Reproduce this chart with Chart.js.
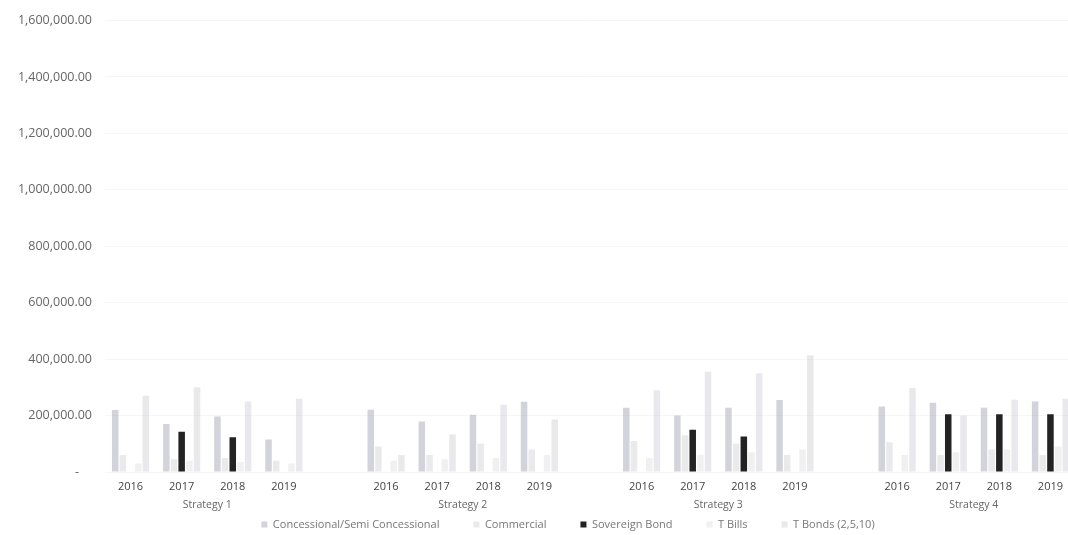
<!DOCTYPE html>
<html>
<head>
<meta charset="utf-8">
<script src="https://cdn.jsdelivr.net/npm/chart.js@4.4.1/dist/chart.umd.min.js"></script>
<style>
  html, body { margin: 0; padding: 0; background: #fff; overflow: hidden; }
  #wrap { width: 1076px; height: 535px; }
</style>
</head>
<body>
<div id="wrap"><canvas id="debtChart"></canvas></div>
<script>
// years per strategy, with an empty slot between strategies
var years = ["2016", "2017", "2018", "2019", "",
             "2016", "2017", "2018", "2019", "",
             "2016", "2017", "2018", "2019", "",
             "2016", "2017", "2018", "2019"];
var strategies = ["Strategy 1", "Strategy 2", "Strategy 3", "Strategy 4"];
var strategyStart = [0, 5, 10, 15]; // first year slot of each strategy

var concessional = [220000, 170000, 197000, 115000, null, 221000, 179000, 203000, 249000, null, 228000, 200000, 228000, 255000, null, 232000, 245000, 228000, 250000];
var commercial   = [60000, 45000, 50000, 40000, null, 90000, 60000, 100000, 80000, null, 110000, 130000, 100000, 60000, null, 105000, 60000, 80000, 60000];
var sovereign    = [0, 143000, 123000, 0, null, 0, 0, 0, 0, null, 0, 150000, 126000, 0, null, 0, 205000, 205000, 205000];
var tBills       = [30000, 40000, 35000, 30000, null, 40000, 45000, 50000, 60000, null, 50000, 60000, 70000, 80000, null, 60000, 70000, 80000, 90000];
var tBonds       = [270000, 300000, 250000, 260000, null, 60000, 133000, 238000, 186000, null, 290000, 355000, 350000, 414000, null, 298000, 200000, 256000, 260000];

// second axis works in half slots so the strategy name sits between 2017 and 2018
var groupLabels = [];
for (var i = 0; i <= years.length * 2; i++) groupLabels.push("");
strategyStart.forEach(function (s, k) { groupLabels[s * 2 + 4] = strategies[k]; });

var ctx = document.getElementById("debtChart");

// legend padding is wide for the gaps between items; pull the row back up
// and a little to the right, where the original sits
var legendNudge = {
  id: "legendNudge",
  afterLayout: function (chart) {
    chart.legend.top -= 14;
    chart.legend.bottom -= 14;
    chart.legend.left += 30;
    chart.legend.right += 30;
  }
};

new Chart(ctx, {
  type: "bar",
  data: {
    labels: years,
    datasets: [
      { label: "Concessional/Semi Concessional", data: concessional, backgroundColor: "rgba(140,140,160,0.38)" },
      { label: "Commercial", data: commercial, backgroundColor: "rgba(160,160,175,0.22)" },
      { label: "Sovereign Bond", data: sovereign, backgroundColor: "#232323" },
      { label: "T Bills", data: tBills, backgroundColor: "rgba(170,170,180,0.18)" },
      { label: "T Bonds (2,5,10)", data: tBonds, backgroundColor: "rgba(165,165,178,0.24)" }
    ]
  },
  options: {
    responsive: true,
    maintainAspectRatio: false,
    animation: false,
    layout: { padding: { top: 7, right: 0, bottom: -19, left: 0 } },
    datasets: {
      bar: { categoryPercentage: 0.75, barPercentage: 0.85 }
    },
    scales: {
      x: {
        grid: { display: false, drawTicks: false },
        border: { display: false },
        afterFit: function (scale) { scale.height = 21; },
        ticks: {
          color: "#444",
          font: { family: "Open Sans", size: 11 },
          padding: 8,
          maxRotation: 0,
          autoSkip: false
        }
      },
      groups: {
        type: "category",
        position: "bottom",
        labels: groupLabels,
        offset: false,
        grid: { display: false, drawTicks: false },
        border: { display: false },
        afterFit: function (scale) { scale.height = 6; },
        ticks: {
          color: "#666",
          font: { family: "Open Sans", size: 10.5 },
          mirror: true, // keeps the labels from being clipped to the thin axis box
          padding: -18,
          maxRotation: 0,
          autoSkip: false
        }
      },
      y: {
        min: 0,
        max: 1600000,
        afterFit: function (scale) { scale.width = 105; },
        grid: { color: "rgba(0,0,0,0.035)", drawTicks: false },
        border: { display: false },
        ticks: {
          stepSize: 200000,
          color: "#666",
          padding: 13,
          font: { family: "Open Sans", size: 12.5 },
          callback: function (value) {
            if (value === 0) return "-    ";
            return value.toLocaleString("en-US", { minimumFractionDigits: 2, maximumFractionDigits: 2 });
          }
        }
      }
    },
    plugins: {
      legend: {
        position: "bottom",
        labels: {
          boxWidth: 6,
          boxHeight: 6,
          padding: 34,
          color: "#777",
          font: { family: "Open Sans", size: 11 }
        }
      },
      tooltip: { enabled: false }
    }
  },
  plugins: [legendNudge]
});
</script>
</body>
</html>
